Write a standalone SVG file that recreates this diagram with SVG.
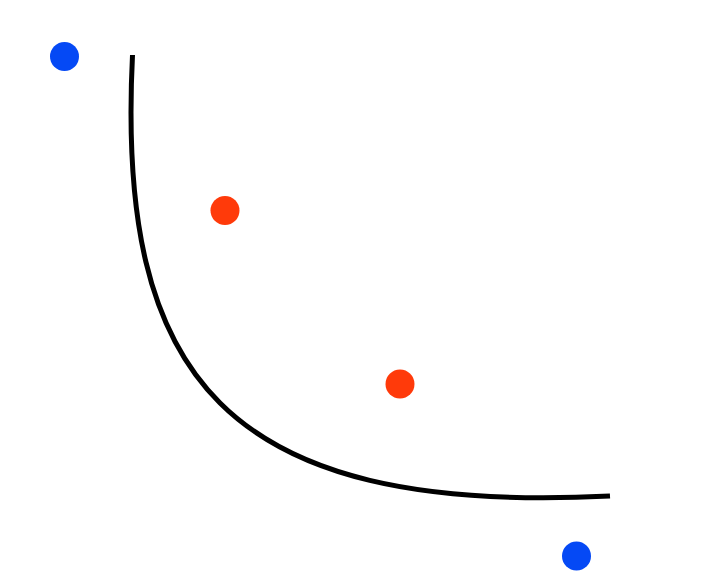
<svg xmlns="http://www.w3.org/2000/svg" width="718" height="584" viewBox="0 0 718 584">
<style>
.blue{fill:#0549f5}
.red{fill:#ff3a0a}
.curve{fill:none;stroke:#000;stroke-width:5}
</style>
<rect width="718" height="584" fill="#fff"/>
<g id="connectors">
<path class="curve" d="M132.5,55 C116.5,375.6 222.7,515.4 610,496"/>
</g>
<g id="blue-top"><circle class="blue" cx="64.5" cy="56.5" r="14.5"/></g>
<g id="red-1"><circle class="red" cx="225" cy="210.5" r="14.5"/></g>
<g id="red-2"><circle class="red" cx="400" cy="384" r="14.5"/></g>
<g id="blue-bottom"><circle class="blue" cx="576.5" cy="556" r="14.5"/></g>
</svg>
